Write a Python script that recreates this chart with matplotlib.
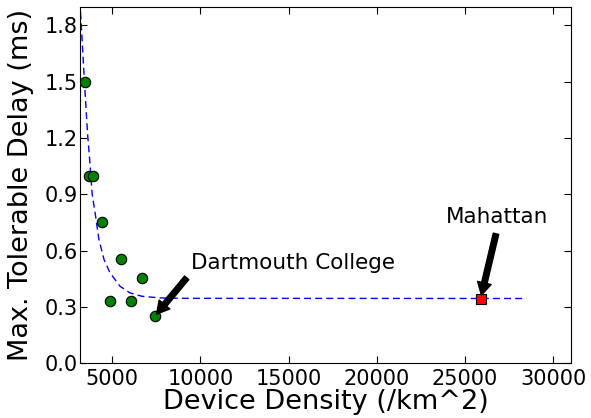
import matplotlib.pyplot as plt

# measured density / tolerable delay pairs
density = [3450, 3670, 3920, 4430, 4850, 5475, 6040, 6700, 7406]
delay = [1.5, 1.0, 1.0, 0.75, 0.334, 0.557, 0.334, 0.455, 0.25]

# Manhattan estimate
man_density = [25880]
man_delay = [0.344]

# fitted trend curve
fit_x = [3200, 3420, 3600, 3730, 3860, 4050, 4240, 4530, 4870, 5440,
         6000, 6670, 7710, 9000, 28480]
fit_y = [1.87, 1.5, 1.22, 1.07, 0.90, 0.785, 0.66, 0.553, 0.482, 0.41,
         0.375, 0.357, 0.348, 0.346, 0.345]

fig = plt.figure(figsize=(5.91, 4.18), dpi=100)
ax = fig.add_axes([0.136, 0.131, 0.830, 0.853])

ax.plot(fit_x, fit_y, 'b--', lw=1, dashes=(5, 3))
ax.plot(density, delay, 'o', color='green', markeredgecolor='black',
        markersize=7.5, markeredgewidth=0.8)
ax.plot(man_density, man_delay, 's', color='red', markeredgecolor='black',
        markersize=7, markeredgewidth=0.8)

ax.annotate('Dartmouth College', xy=(density[-1], delay[-1]),
            xytext=(9450, 0.503), fontsize=15.5, ha='left', va='baseline',
            arrowprops=dict(facecolor='black', shrink=0.05, width=4,
                            headwidth=10, headlength=9))
ax.annotate('Mahattan', xy=(man_density[0], man_delay[0]),
            xytext=(26840, 0.745), fontsize=15.5, ha='center', va='baseline',
            arrowprops=dict(facecolor='black', shrink=0.05, width=4,
                            headwidth=10, headlength=9))

ax.set_xlim(3190, 31000)
ax.set_ylim(0, 1.9)
ax.set_xticks([5000, 10000, 15000, 20000, 25000, 30000])
ax.set_yticks([0.0, 0.3, 0.6, 0.9, 1.2, 1.5, 1.8])
ax.set_yticklabels(['0.0', '0.3', '0.6', '0.9', '1.2', '1.5', '1.8'])
ax.tick_params(direction='in', top=True, right=True, length=5,
               labelsize=15)
ax.tick_params(axis='x', pad=4)
ax.tick_params(axis='y', pad=2)

ax.set_xlabel('Device Density (/km^2)', fontsize=19.5, labelpad=0)
ax.set_ylabel('Max. Tolerable Delay (ms)', fontsize=19.5)
ax.yaxis.set_label_coords(-0.095, 0.5)

fig.savefig('out.png', dpi=100)
